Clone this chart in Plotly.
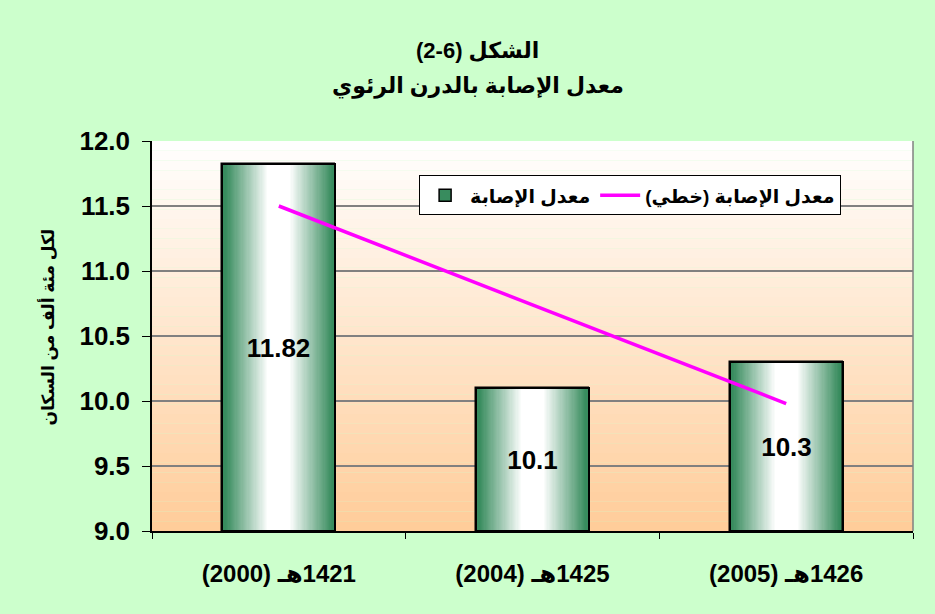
import plotly.graph_objects as go

RLE, PDF = "\u202b", "\u202c"

# data
categories = ["1421هـ (2000)", "1425هـ (2004)", "1426هـ (2005)"]
rates = [11.82, 10.1, 10.3]
rate_labels = ["11.82", "10.1", "10.3"]
trend = [11.50, 10.74, 9.98]
y_ticks = [9.0, 9.5, 10.0, 10.5, 11.0, 11.5, 12.0]
Y_MIN, Y_MAX = 9.0, 12.0

title_line1 = "الشكل (6-2)"
title_line2 = "معدل الإصابة بالدرن الرئوي"
y_title = "لكل مئة ألف من السكان"
bar_name = "معدل الإصابة"
trend_name = "معدل الإصابة (خطي)"


def rtl(s):
    # force right-to-left embedding so brackets/digits land where Arabic readers expect
    return RLE + s + PDF


FONT = "Arial, Liberation Sans, DejaVu Sans, sans-serif"
GREEN = (56, 140, 94)
BAR_W = 0.445

x_labels = [rtl(c) for c in categories]


def mix(c1, c2, t):
    return "rgb(%d,%d,%d)" % tuple(round(a + (b - a) * t) for a, b in zip(c1, c2))


fig = go.Figure()

# bars: overlay of ever narrower (centred) bars, dark green edges fading to a white core
steps = 40
for i in range(steps):
    f = 1.0 - 0.82 * i / (steps - 1)
    t = min(max((0.95 - f) / 0.75, 0.0), 1.0)
    w = BAR_W * f
    first = i == 0
    fig.add_trace(go.Bar(
        x=x_labels, y=rates, width=w, offset=-w / 2,
        marker=dict(color=mix(GREEN, (255, 255, 255), t),
                    line=dict(width=1.5 if first else 0, color="black")),
        name=rtl(bar_name), showlegend=first, hoverinfo=None if first else "skip",
    ))

# outline + value labels on top (based at the axis floor so the label sits mid-bar)
fig.add_trace(go.Bar(
    x=x_labels, y=[r - Y_MIN for r in rates], base=Y_MIN,
    width=BAR_W, offset=-BAR_W / 2,
    marker=dict(color="rgba(0,0,0,0)", line=dict(width=2, color="black")),
    text=rate_labels, textposition="inside", insidetextanchor="middle",
    textangle=0, constraintext="none",
    textfont=dict(family=FONT, size=26, color="black", weight="bold"),
    showlegend=False, hoverinfo="skip",
))

fig.add_trace(go.Scatter(
    x=x_labels, y=trend, mode="lines", name=rtl(trend_name),
    line=dict(color="#FF00FF", width=3.5),
))

# plot-area background: white at top fading to peach at the bottom
bands = 40
shapes = []
for i in range(bands):
    shapes.append(dict(
        type="rect", xref="x domain", yref="y domain", layer="below",
        x0=0, x1=1, y0=i / bands, y1=(i + 1) / bands,
        fillcolor=mix((255, 204, 153), (255, 255, 255), (i + 0.5) / bands),
        line=dict(width=0),
    ))
shapes.append(dict(type="line", xref="x domain", yref="y domain",
                   x0=1, x1=1, y0=0, y1=1, line=dict(color="#808080", width=1.5)))

fig.update_layout(
    width=935, height=614,
    paper_bgcolor="#CCFFCC", plot_bgcolor="rgba(0,0,0,0)",
    margin=dict(l=152, r=22, t=141, b=83),
    barmode="overlay", bargap=0,
    font=dict(family=FONT, color="black", weight="bold"),
    shapes=shapes,
    showlegend=True,
    legend=dict(
        orientation="h", x=0.351, y=0.912, xanchor="left", yanchor="top",
        bgcolor="white", bordercolor="black", borderwidth=1, itemwidth=40,
        font=dict(family=FONT, size=19, weight="bold"),
    ),
    xaxis=dict(
        tickson="boundaries", ticks="outside", ticklen=6, tickcolor="black",
        showline=True, linecolor="black", linewidth=1.5, showgrid=False,
        tickfont=dict(family=FONT, size=24, weight="bold"), ticklabelstandoff=20,
    ),
    yaxis=dict(
        range=[Y_MIN, Y_MAX], tickvals=y_ticks, tickformat=".1f",
        ticks="outside", ticklen=8, tickcolor="black",
        showline=True, linecolor="black", linewidth=1.5,
        showgrid=True, gridcolor="#808080", gridwidth=1.5,
        tickfont=dict(family=FONT, size=26, weight="bold"), ticklabelstandoff=7,
    ),
    annotations=[
        dict(text=rtl(title_line1), xref="paper", yref="paper", x=0.428, y=1.231,
             xanchor="center", yanchor="middle", showarrow=False,
             font=dict(family=FONT, size=22, weight="bold")),
        dict(text=rtl(title_line2), xref="paper", yref="paper", x=0.428, y=1.141,
             xanchor="center", yanchor="middle", showarrow=False,
             font=dict(family=FONT, size=22, weight="bold")),
        dict(text=rtl(y_title), xref="paper", yref="paper", x=-0.136, y=0.523,
             xanchor="center", yanchor="middle", textangle=-90, showarrow=False,
             font=dict(family=FONT, size=17, weight="bold")),
    ],
)

fig.write_html("out.html", config={"displayModeBar": False},
               post_script="document.body.style.margin='0';")
